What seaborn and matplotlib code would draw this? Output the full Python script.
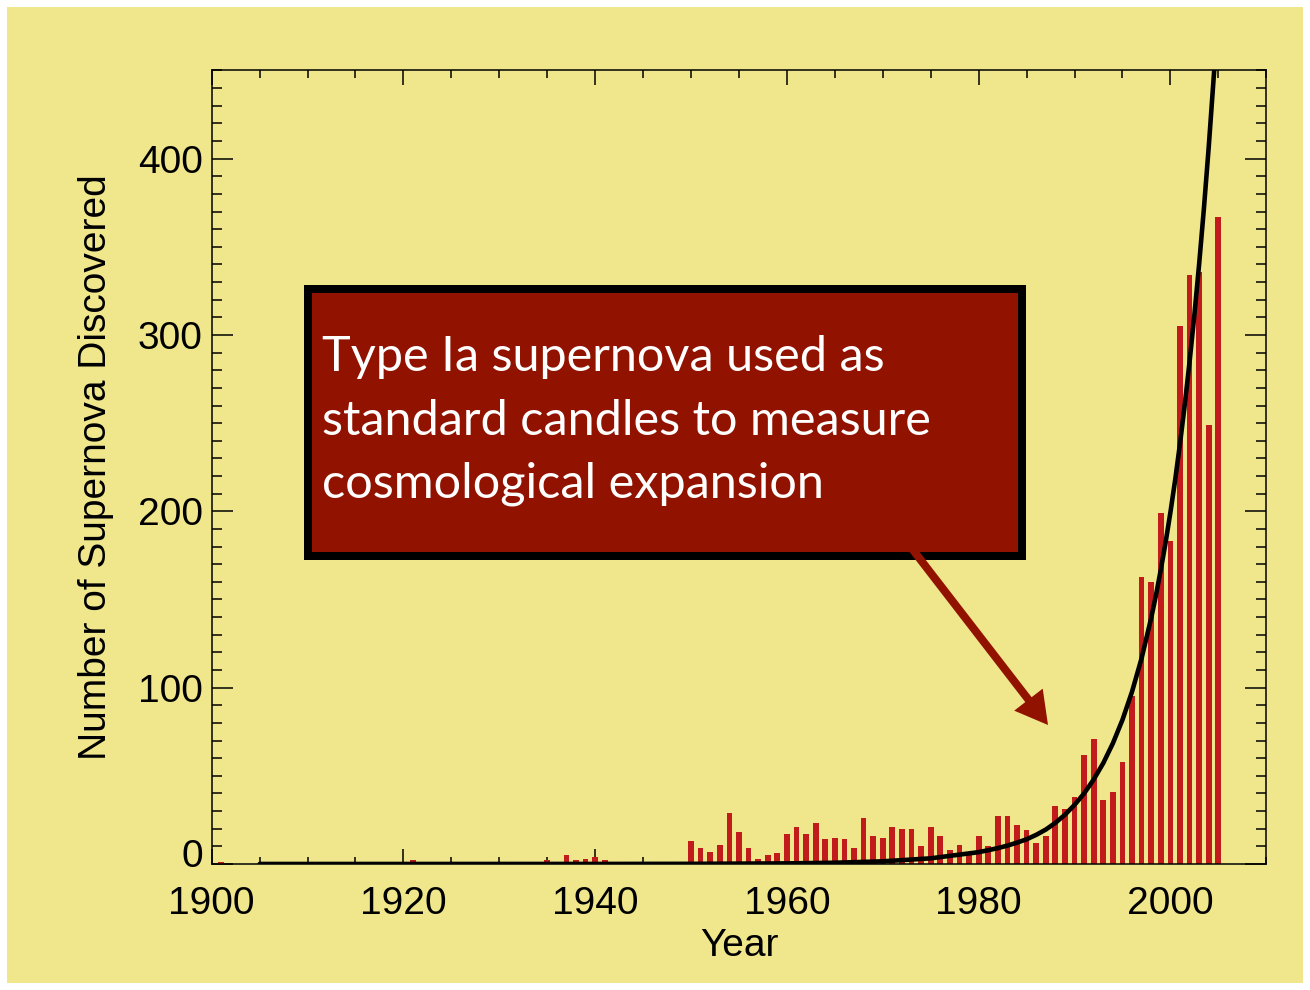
import numpy as np
import pandas as pd
import matplotlib
matplotlib.use("Agg")
import matplotlib.pyplot as plt
from matplotlib.patches import Rectangle, FancyArrow
from matplotlib.transforms import ScaledTranslation
import seaborn as sns

# ---------------- data ----------------
years = list(range(1900, 2006))
counts = [
    0, 1, 0, 0, 0, 0, 0, 0, 0, 0,          # 1900-1909
    0, 0, 0, 0, 0, 0, 0, 0, 0, 0,          # 1910-1919
    0, 2, 0, 0, 0, 0, 1, 0, 0, 0,          # 1920-1929
    0, 0, 0, 0, 0, 2, 1, 5, 2, 3,          # 1930-1939
    4, 2, 0, 0, 0, 1, 1, 0, 1, 0,          # 1940-1949
    13, 9, 7, 11, 29, 18, 9, 3, 5, 6,      # 1950-1959
    17, 21, 17, 23, 14, 15, 14, 9, 26, 16, # 1960-1969
    15, 21, 20, 20, 10, 21, 16, 8, 11, 6,  # 1970-1979
    16, 10, 27, 27, 22, 19, 12, 16, 33, 31,# 1980-1989
    38, 62, 71, 36, 41, 58, 95, 163, 160, 199,  # 1990-1999
    183, 305, 334, 336, 249, 367,          # 2000-2005
]

fit_years = [1905, 1920, 1940, 1950, 1960, 1965, 1970, 1975, 1980, 1981,
             1982, 1983, 1984, 1985, 1986, 1987, 1988, 1989, 1990, 1991,
             1992, 1993, 1994, 1995, 1996, 1997, 1998, 1998.5, 1999, 1999.5,
             2000, 2000.5, 2001, 2001.5, 2002, 2002.5, 2003, 2003.5, 2004,
             2004.57]
fit_values = [0.0, 0.0, 0.02, 0.08, 0.33, 0.7, 1.5, 3.2, 6.7, 7.8,
              9.0, 10.4, 12.1, 14.0, 16.5, 19.5, 23.3, 27.9, 33.5, 40.0,
              47.9, 57.2, 68.4, 81.7, 97.7, 116.7, 139.5, 152.5, 166.8, 182.3,
              199.3, 217.8, 238.2, 260.4, 284.7, 311.2, 340.2, 371.9, 406.6,
              450.0]

x_ticks = [1900, 1920, 1940, 1960, 1980, 2000]
y_ticks = [0, 100, 200, 300, 400]

xlabel = "Year"
ylabel = "Number of Supernova Discovered"
note = "Type Ia supernova used as\nstandard candles to measure\ncosmological expansion"

# ---------------- style ----------------
KHAKI = "#F0E68C"
BAR = "#C21B1B"
BOX = "#921200"

sns.set_theme(style="ticks")
plt.rcParams["font.family"] = ["Liberation Sans", "DejaVu Sans"]
plt.rcParams["axes.linewidth"] = 1.1

fig = plt.figure(figsize=(13.1, 9.9), dpi=100, facecolor="white")
fig.add_artist(Rectangle((7 / 1310, 7 / 990), 1296 / 1310, 976 / 990,
                         transform=fig.transFigure, facecolor=KHAKI,
                         edgecolor="none", zorder=-10))

ax = fig.add_axes([0.1616, 0.1273, 0.8050, 0.8015])
ax.set_facecolor(KHAKI)

df = pd.DataFrame({"year": years, "count": counts})
sns.barplot(data=df, x="year", y="count", native_scale=True, width=0.6,
            color=BAR, saturation=1, linewidth=0, errorbar=None, ax=ax)

fit = pd.DataFrame({"year": fit_years, "value": fit_values})
sns.lineplot(data=fit, x="year", y="value", color="black", lw=3.3, ax=ax,
             zorder=5)

ax.set_xlim(1900, 2010)
ax.set_ylim(0, 450)
ax.set_xticks(x_ticks)
ax.set_xticks(np.arange(1900, 2011, 5), minor=True)
ax.set_yticks(y_ticks)
ax.set_yticks(np.arange(0, 451, 10), minor=True)
ax.set_xticklabels([str(v) for v in x_ticks])
ax.set_yticklabels([str(v) for v in y_ticks])

for s in ax.spines.values():
    s.set_visible(True)
    s.set_color("black")
    s.set_linewidth(1.1)

ax.tick_params(which="both", direction="in", top=True, right=True,
               color="black", width=1.1, labelsize=28, labelcolor="black")
ax.tick_params(axis="x", which="major", length=10.8, pad=15.5)
ax.tick_params(axis="x", which="minor", length=5.4)
ax.tick_params(axis="y", which="major", length=14.9, pad=6.5)
ax.tick_params(axis="y", which="minor", length=7.2)

# "0" label sits slightly higher in the reference
t0 = ax.yaxis.get_major_ticks()[0].label1
t0.set_transform(t0.get_transform() + ScaledTranslation(0, 0.11, fig.dpi_scale_trans))

ax.set_xlabel(xlabel, fontsize=28, color="black")
ax.set_ylabel(ylabel, fontsize=28, color="black")
ax.xaxis.set_label_coords(0.5, -0.103)
ax.xaxis.label.set_verticalalignment("center")
ax.yaxis.set_label_coords(-0.1099, 0.5)
ax.yaxis.label.set_verticalalignment("center")

# annotation box
fig.add_artist(Rectangle((3.08, 4.34), 7.14, 2.67, transform=fig.dpi_scale_trans,
                         facecolor=BOX, edgecolor="black", linewidth=5.76,
                         joinstyle="miter", zorder=2))
fig.add_artist(FancyArrow(9.13, 4.40, 1.35, -1.75, width=0.08, head_width=0.36,
                          head_length=0.32, length_includes_head=True,
                          transform=fig.dpi_scale_trans, facecolor=BOX,
                          edgecolor="none", zorder=3))
fig.text(3.22, 4.92, note, transform=fig.dpi_scale_trans, color="white",
         fontsize=35, family=["Lato", "DejaVu Sans"], ha="left",
         va="baseline", linespacing=1.54, zorder=4)

fig.savefig("out.png", dpi=100, facecolor=fig.get_facecolor())
